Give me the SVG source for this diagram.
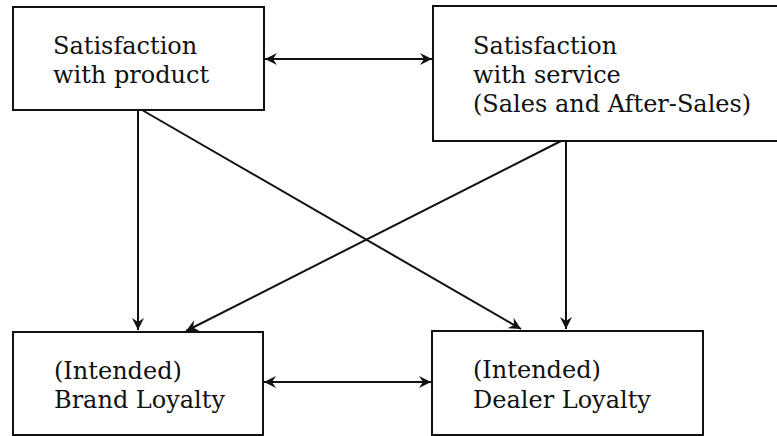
<svg xmlns="http://www.w3.org/2000/svg" width="777" height="436" viewBox="0 0 777 436">
<style>
.box{fill:#fff;stroke:#111;stroke-width:2}
.lbl{font-family:"DejaVu Serif","Liberation Serif",serif;font-size:24px;fill:#111}
.con{stroke:#111;stroke-width:2;fill:none}
</style>
<defs>
<marker id="ah" markerWidth="14" markerHeight="12" refX="12" refY="6" orient="auto-start-reverse" markerUnits="userSpaceOnUse">
<path d="M0,0 L12,6 L0,12 L4,6 z" fill="#111"/>
</marker>
</defs>
<rect width="777" height="436" fill="#fff"/>
<g id="n1">
<rect class="box" x="13" y="7" width="251" height="103"/>
<text class="lbl" x="53" y="54">Satisfaction</text>
<text class="lbl" x="53" y="83">with product</text>
</g>
<g id="n2">
<rect class="box" x="433" y="6" width="360" height="135"/>
<text class="lbl" x="473" y="54">Satisfaction</text>
<text class="lbl" x="473" y="83">with service</text>
<text class="lbl" x="473" y="112">(Sales and After-Sales)</text>
</g>
<g id="n3">
<rect class="box" x="13" y="332" width="250" height="103"/>
<text class="lbl" x="54" y="379">(Intended)</text>
<text class="lbl" x="54" y="408">Brand Loyalty</text>
</g>
<g id="n4">
<rect class="box" x="432" y="331" width="271" height="104"/>
<text class="lbl" x="473" y="378">(Intended)</text>
<text class="lbl" x="473" y="408">Dealer Loyalty</text>
</g>
<g id="connectors">
<line class="con" x1="265" y1="59" x2="432" y2="59" marker-start="url(#ah)" marker-end="url(#ah)"/>
<line class="con" x1="264" y1="382" x2="431" y2="382" marker-start="url(#ah)" marker-end="url(#ah)"/>
<line class="con" x1="138" y1="110" x2="138" y2="330" marker-end="url(#ah)"/>
<line class="con" x1="142" y1="110" x2="521" y2="329" marker-end="url(#ah)"/>
<line class="con" x1="561" y1="141" x2="186" y2="331" marker-end="url(#ah)"/>
<line class="con" x1="566" y1="141" x2="566" y2="329" marker-end="url(#ah)"/>
</g>
</svg>
